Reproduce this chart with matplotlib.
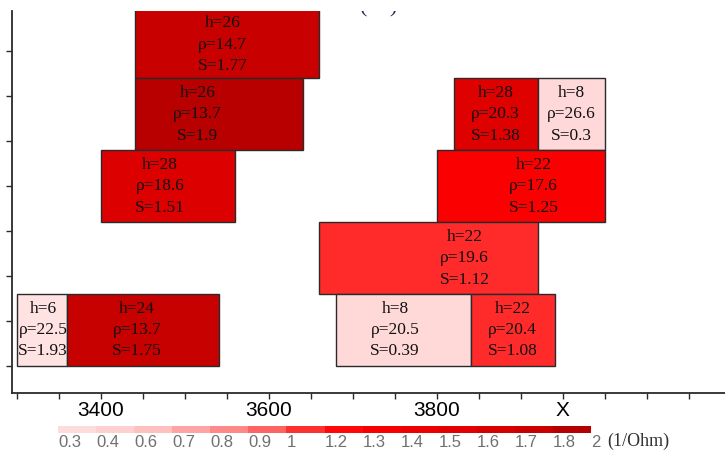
import matplotlib
matplotlib.use('Agg')
import matplotlib.pyplot as plt
from matplotlib.patches import Rectangle
from matplotlib.colors import ListedColormap, BoundaryNorm
import matplotlib.cm as cm

# ---- data (layers) ----
x_left = [3440, 3440, 3400, 3820, 3920, 3800, 3660, 3300, 3360, 3680, 3840]
x_right = [3660, 3640, 3560, 3920, 4000, 4000, 3920, 3360, 3540, 3840, 3940]
y_bottom = [320, 240, 160, 240, 240, 160, 80, 0, 0, 0, 0]
y_top = [400, 320, 240, 320, 320, 240, 160, 80, 80, 80, 80]
h_vals = [26, 26, 28, 28, 8, 22, 22, 6, 24, 8, 22]
rho_vals = [14.7, 13.7, 18.6, 20.3, 26.6, 17.6, 19.6, 22.5, 13.7, 20.5, 20.4]
S_vals = [1.77, 1.9, 1.51, 1.38, 0.3, 1.25, 1.12, 1.93, 1.75, 0.39, 1.08]

# colour-scale boundaries and labels
cb_bounds = [0.3, 0.4, 0.6, 0.7, 0.8, 0.9, 1, 1.2, 1.3, 1.4, 1.5, 1.6, 1.7, 1.8, 2]
cb_labels = ['0.3', '0.4', '0.6', '0.7', '0.8', '0.9', '1', '1.2', '1.3', '1.4',
             '1.5', '1.6', '1.7', '1.8', '2']
x_tick_labels = {3400: '3400', 3600: '3600', 3800: '3800', 3950: 'X'}

# ---- styles ----
label_x = [3545, 3515, 3470, 3870, 3960, 3915, 3833, 3331, 3443, 3750, 3890]
box_colors = ['#c80000', '#b90000', '#dc0000', '#df0000', '#ffd9d9', '#fb0000',
              '#ff2a2a', '#ffe2e2', '#c70000', '#ffd8d8', '#ff2b2b']
seg_colors = ['#ffdcdc', '#ffd0d0', '#ffc0c0', '#ffa4a4', '#ff8888', '#ff6464',
              '#ff3030', '#ff0808', '#f60000', '#ec0000', '#e20000', '#d60000',
              '#ca0000', '#b40000']

W, H = 725, 451
fig = plt.figure(figsize=(W / 100, H / 100), dpi=100)
ax = fig.add_axes([12 / W, (H - 393) / H, (W - 12) / W, (393 - 11) / H])
ax.set_xlim(3294, 4143)
ax.set_ylim(-30, 395)

for i in range(len(h_vals)):
    ax.add_patch(Rectangle((x_left[i], y_bottom[i]), x_right[i] - x_left[i],
                           y_top[i] - y_bottom[i], facecolor=box_colors[i],
                           edgecolor='#2a2a2a', linewidth=1.0, zorder=2))
    top = min(y_top[i], 395)
    yc = (y_bottom[i] + top) / 2
    ax.text(label_x[i], yc, f"h={h_vals[i]}\n\u03c1={rho_vals[i]}\nS={S_vals[i]}",
            ha='center', va='center', family='Liberation Serif', fontsize=12.5,
            linespacing=1.45, color='#111111', zorder=3)

# clipped caption remnant at top (cut off in the reference as well)
ax.text(3731, 388, "(    )", ha='center', va='bottom', family='Liberation Serif',
        fontsize=16, color='#1a2a4a', clip_on=True)

for s in ['top', 'right']:
    ax.spines[s].set_visible(False)
for s in ['left', 'bottom']:
    ax.spines[s].set_color('#2a2a2a')
    ax.spines[s].set_linewidth(1.3)

xt = list(range(3300, 4101, 50))
ax.set_xticks(xt)
ax.set_xticklabels([x_tick_labels.get(v, '') for v in xt],
                   family='Liberation Sans', fontsize=15)
ax.set_yticks(list(range(0, 351, 50)))
ax.set_yticklabels([])
ax.tick_params(axis='both', direction='out', length=4, width=1.0, color='#2a2a2a', pad=2)

# colour bar
cax = fig.add_axes([58 / W, (H - 433) / H, 533 / W, 7 / H])
cmap = ListedColormap(seg_colors)
norm = BoundaryNorm(cb_bounds, cmap.N)
cb = fig.colorbar(cm.ScalarMappable(norm=norm, cmap=cmap), cax=cax,
                  orientation='horizontal', spacing='uniform', ticks=cb_bounds)
cb.outline.set_visible(False)
cax.tick_params(length=0, pad=1.5)
cax.set_xticklabels(cb_labels, family='Liberation Sans', fontsize=12, color='#707070')
for t in cax.get_xticklabels():
    t.set_horizontalalignment('left')
fig.text(607 / W, 1 - 441 / H, "(1/Ohm)", family='Liberation Serif', fontsize=13,
         color='#333333', va='center', ha='left')

fig.savefig('out.png', dpi=100)
